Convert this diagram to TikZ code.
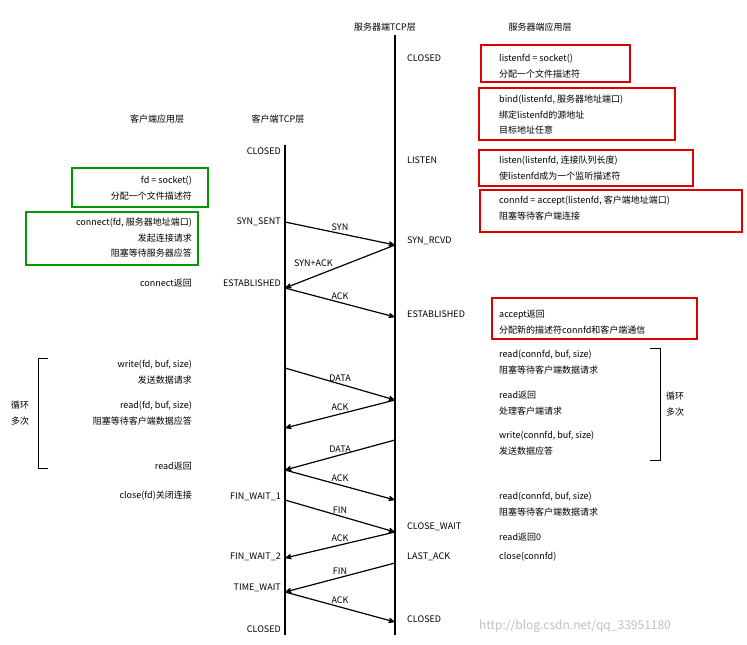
\documentclass[tikz,border=0pt]{standalone}
\usepackage{fontspec}
\setmainfont{Noto Sans CJK SC}
\usetikzlibrary{arrows}

\begin{document}
\begin{tikzpicture}[x=1pt,y=-1pt,>=stealth',font=\fontsize{9}{15.5}\selectfont,
    lstate/.style={anchor=east,inner sep=1pt},
    rstate/.style={anchor=west,inner sep=1pt},
    capp/.style={anchor=east,align=right,inner sep=1pt},
    sapp/.style={anchor=west,align=left,inner sep=1pt},
    msg/.style={->,line width=1.2pt},
    gbox/.style={draw=green!60!black,line width=1.5pt},
    rbox/.style={draw=red!85!black,line width=1.5pt}]
  \useasboundingbox (0,0) rectangle (747,645);
  % time lines
  \coordinate (ctop) at (285,145); \coordinate (cbot) at (285,635);
  \coordinate (stop) at (395,35);  \coordinate (sbot) at (395,635);
  \draw[line width=1.8pt] (ctop) -- (cbot);
  \draw[line width=1.8pt] (stop) -- (sbot);

  % headers
  \node (hstcp) at (385,27) {服务器端TCP层};
  \node (hsapp) at (540,27) {服务器端应用层};
  \node (hcapp) at (157,119) {客户端应用层};
  \node (hctcp) at (278,119) {客户端TCP层};

  % client states
  \node[lstate] (c1) at (282,151) {CLOSED};
  \node[lstate] (c2) at (282,222) {SYN\_SENT};
  \node[lstate] (c3) at (282,283) {ESTABLISHED};
  \node[lstate] (c4) at (282,497) {FIN\_WAIT\_1};
  \node[lstate] (c5) at (282,557) {FIN\_WAIT\_2};
  \node[lstate] (c6) at (282,588) {TIME\_WAIT};
  \node[lstate] (c7) at (282,629) {CLOSED};

  % server states
  \node[rstate] (s1) at (406,58) {CLOSED};
  \node[rstate] (s2) at (406,160) {LISTEN};
  \node[rstate] (s3) at (406,241) {SYN\_RCVD};
  \node[rstate] (s4) at (406,314) {ESTABLISHED};
  \node[rstate] (s5) at (406,527) {CLOSE\_WAIT};
  \node[rstate] (s6) at (406,557) {LAST\_ACK};
  \node[rstate] (s7) at (406,619) {CLOSED};

  % message end points
  \foreach \n/\y in {a/222,b/288,c/368,d/428,e/470,f/500,g/558,h/592}
    \coordinate (cp\n) at (285,\y);
  \foreach \n/\y in {a/245,b/317,c/400,d/440,e/500,f/532,g/563,h/622}
    \coordinate (sp\n) at (395,\y);

  \draw[msg] (cpa) -- node[above=-1pt,pos=0.5] {SYN} (spa);
  \draw[msg] (spa) -- node[above left=-2pt,pos=0.55] {SYN+ACK} (cpb);
  \draw[msg] (cpb) -- node[above=-1pt,pos=0.5] {ACK} (spb);
  \draw[msg] (cpc) -- node[above=-1pt,pos=0.5] {DATA} (spc);
  \draw[msg] (spc) -- node[above=-1pt,pos=0.5] {ACK} (cpd);
  \draw[msg] (spd) -- node[above=-1pt,pos=0.5] {DATA} (cpe);
  \draw[msg] (cpe) -- node[above=-1pt,pos=0.5] {ACK} (spe);
  \draw[msg] (cpf) -- node[above=-1pt,pos=0.5] {FIN} (spf);
  \draw[msg] (spf) -- node[above=-1pt,pos=0.5] {ACK} (cpg);
  \draw[msg] (spg) -- node[above=-1pt,pos=0.5] {FIN} (cph);
  \draw[msg] (cph) -- node[above=-1pt,pos=0.5] {ACK} (sph);

  % client application
  \node[capp] (csock) at (193,188) {fd = socket()\\分配一个文件描述符};
  \node[capp] (cconn) at (193,238) {connect(fd, 服务器地址端口)\\发起连接请求\\阻塞等待服务器应答};
  \node[capp] (cret) at (193,283) {connect返回};
  \node[capp] (cwrite) at (193,372) {write(fd, buf, size)\\发送数据请求};
  \node[capp] (cread) at (193,413) {read(fd, buf, size)\\阻塞等待客户端数据应答};
  \node[capp] (crret) at (193,466) {read返回};
  \node[capp] (cclose) at (193,496) {close(fd)关闭连接};
  \draw[gbox] (72,168) rectangle (208,207);
  \draw[gbox] (26,212) rectangle (198,265);
  \draw[thick] (48,358) -- (38,358) -- (38,468) -- (48,468);
  \node[align=center] (cloop) at (20,413) {循环\\多次};

  % server application
  \node[sapp] (ssock) at (498,66) {listenfd = socket()\\分配一个文件描述符};
  \node[sapp] (sbind) at (498,115) {bind(listenfd, 服务器地址端口)\\绑定listenfd的源地址\\目标地址任意};
  \node[sapp] (slisten) at (498,168) {listen(listenfd, 连接队列长度)\\使listenfd成为一个监听描述符};
  \node[sapp] (saccept) at (498,208) {connfd = accept(listenfd, 客户端地址端口)\\阻塞等待客户端连接};
  \node[sapp] (saret) at (498,322) {accept返回\\分配新的描述符connfd和客户端通信};
  \node[sapp] (sread) at (498,362) {read(connfd, buf, size)\\阻塞等待客户端数据请求};
  \node[sapp] (srret) at (498,403) {read返回\\处理客户端请求};
  \node[sapp] (swrite) at (498,443) {write(connfd, buf, size)\\发送数据应答};
  \node[sapp] (sread2) at (498,504) {read(connfd, buf, size)\\阻塞等待客户端数据请求};
  \node[sapp] (sr0) at (498,537) {read返回0};
  \node[sapp] (sclose) at (498,557) {close(connfd)};
  \draw[rbox] (481,45) rectangle (630,82);
  \draw[rbox] (479,88) rectangle (675,140);
  \draw[rbox] (479,150) rectangle (693,186);
  \draw[rbox] (480,190) rectangle (742,232);
  \draw[rbox] (492,298) rectangle (697,339);
  \draw[thick] (650,348) -- (660,348) -- (660,460) -- (650,460);
  \node[align=center] (sloop) at (675,404) {循环\\多次};

  % watermark
  \node[text=gray!50,font=\fontsize{12}{12}\selectfont] (mark) at (575,626) {http://blog.csdn.net/qq\_33951180};
\end{tikzpicture}
\end{document}
